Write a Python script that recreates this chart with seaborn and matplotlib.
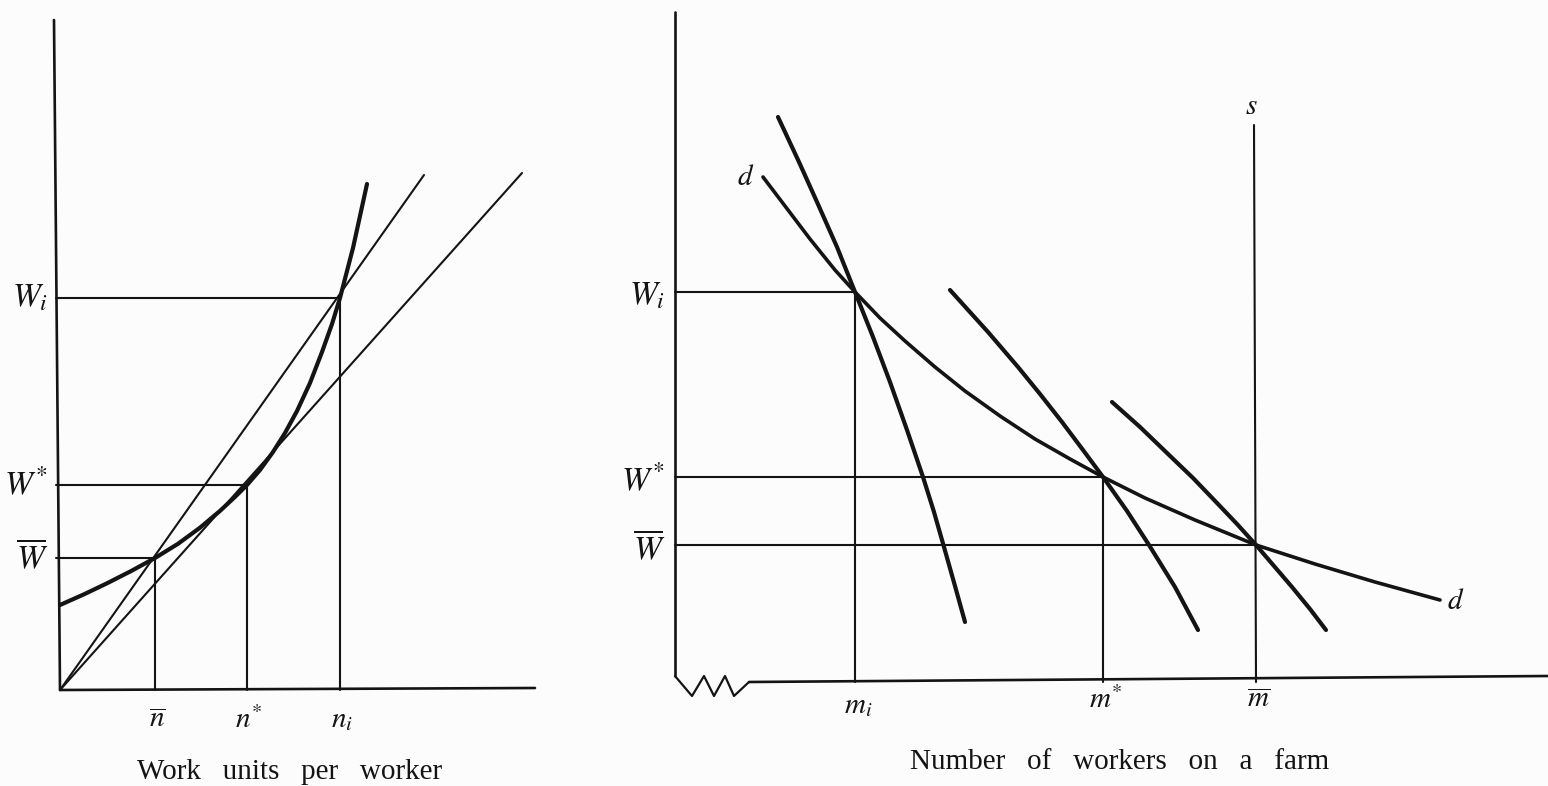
import seaborn as sns
import matplotlib.pyplot as plt
import pandas as pd

# values (units: picture scale, origin at each axis corner)
# left panel: cost curve per worker against work units
n_marks = [95, 187, 280]            # n-bar, n*, n_i
n_labels = [r'$\overline{n}$', r'$n^{*}$', r'$n_i$']
w_left = [132, 205, 392]            # W-bar, W*, W_i
w_labels = [r'$\overline{W}$', r'$W^{*}$', r'$W_i$']
cost_x = [0, 24, 47, 71, 95, 118, 140, 160, 175, 187, 200, 213, 225, 237,
          250, 262, 272, 280, 293, 307]
cost_y = [85, 95.7, 106.7, 118.9, 132, 146.2, 162.3, 179.1, 193.1, 205, 220,
          238, 257, 279, 307, 338, 366, 392, 442, 506]
ray_steep_x, ray_steep_y = [0, 364], [0, 515]
ray_flat_x, ray_flat_y = [0, 462], [0, 517]

# right panel: demand for workers on a farm
m_marks = [180, 428, 581]           # m_i, m*, m-bar
m_labels = [r'$m_i$', r'$m^{*}$', r'$\overline{m}$']
w_right = [390, 205, 137]           # W_i, W*, W-bar
d_x = [88, 110, 135, 160, 180, 205, 230, 260, 290, 325, 360, 395, 428, 470,
       520, 581, 640, 700, 765]
d_y = [505, 476, 443, 412, 390, 364, 341, 315, 291, 266, 243, 223, 205, 184,
       162, 137, 118, 100, 82]
farm_i_x = [103, 124, 142, 162, 180, 198, 215, 232, 248, 259, 269, 280, 290]
farm_i_y = [565, 520, 480, 435, 390, 345, 300, 252, 205, 170, 135, 96, 60]
farm_s_x = [275, 313, 343, 365, 387, 408, 428, 452, 474, 500, 523]
farm_s_y = [392, 350, 315, 288, 260, 232, 205, 171, 137, 95, 52]
farm_b_x = [437, 465, 492, 518, 542, 562, 581, 599, 617, 635, 651]
farm_b_y = [280, 255, 229, 204, 179, 158, 137, 116, 95, 73, 52]
s_top = 557
zig_x = [0, 17, 29, 39, 50, 59, 74]
zig_y = [6, -14, 6, -14, 6, -14, 0]

sns.set_theme(style="white")
plt.rcParams['font.family'] = ['Liberation Serif', 'DejaVu Serif']
plt.rcParams['mathtext.fontset'] = 'stix'

ink = '#141414'
thin = 1.5
thick = 3.0

fig = plt.figure(figsize=(15.48, 7.86), dpi=100)
fig.patch.set_facecolor('#fcfcfc')

# ---- left panel
axL = fig.add_axes([0, 0, 560 / 1548, 1])
axL.set_xlim(-60, 500)
axL.set_ylim(-96, 690)
axL.axis('off')

axL.plot([-6, 0], [670, 0], color=ink, lw=1.9)
axL.plot([0, 475], [0, 2], color=ink, lw=1.9)
axL.plot(ray_steep_x, ray_steep_y, color=ink, lw=thin)
axL.plot(ray_flat_x, ray_flat_y, color=ink, lw=thin)
for n, w in zip(n_marks, w_left):
    axL.plot([-4, n], [w, w], color=ink, lw=thin)
    axL.plot([n, n], [0, w], color=ink, lw=thin)
cost = pd.DataFrame({'x': cost_x, 'y': cost_y})
sns.lineplot(data=cost, x='x', y='y', sort=False, estimator=None,
             color=ink, lw=thick, ax=axL)
axL.lines[-1].set_solid_joinstyle('round')
axL.lines[-1].set_solid_capstyle('round')

for w, lab in zip(w_left, w_labels):
    axL.text(-12, w, lab, ha='right', va='center', fontsize=24, color=ink)
for n, lab in zip(n_marks, n_labels):
    axL.text(n + 2, -30, lab, ha='center', va='center', fontsize=21, color=ink)
axL.text(230, -82, 'Work   units   per   worker', ha='center', va='center',
         fontsize=21, color=ink)

# ---- right panel
axR = fig.add_axes([560 / 1548, 0, 988 / 1548, 1])
axR.set_xlim(-115, 873)
axR.set_ylim(-104, 682)
axR.axis('off')

axR.plot([0, 0], [6, 670], color=ink, lw=1.9)
axR.plot(zig_x, zig_y, color=ink, lw=1.6)
axR.plot([74, 873], [0, 6], color=ink, lw=1.9)
for m, w in zip(m_marks, w_right):
    axR.plot([0, m], [w, w], color=ink, lw=thin)
axR.plot([m_marks[0], m_marks[0]], [0, w_right[0]], color=ink, lw=thin)
axR.plot([m_marks[1], m_marks[1]], [0, w_right[1]], color=ink, lw=thin)
axR.plot([m_marks[2] - 2, m_marks[2]], [s_top, 0], color=ink, lw=thin)

for xs, ys, lw in [(d_x, d_y, 2.6), (farm_i_x, farm_i_y, thick),
                   (farm_s_x, farm_s_y, thick), (farm_b_x, farm_b_y, thick)]:
    df = pd.DataFrame({'x': xs, 'y': ys})
    sns.lineplot(data=df, x='x', y='y', sort=False, estimator=None,
                 color=ink, lw=lw, ax=axR)
    axR.lines[-1].set_solid_joinstyle('round')
    axR.lines[-1].set_solid_capstyle('round')

for w, lab in zip(w_right, [r'$W_i$', r'$W^{*}$', r'$\overline{W}$']):
    axR.text(-10, w - 4, lab, ha='right', va='center', fontsize=24, color=ink)
for m, lab, dy in zip(m_marks, m_labels, [-24, -18, -18]):
    axR.text(m + 3, dy, lab, ha='center', va='center', fontsize=21, color=ink)
axR.text(576, 575, r'$s$', ha='center', va='center', fontsize=21, color=ink)
axR.text(71, 504, r'$d$', ha='center', va='center', fontsize=21, color=ink)
axR.text(781, 80, r'$d$', ha='center', va='center', fontsize=21, color=ink)
axR.text(445, -80, 'Number   of   workers   on   a   farm', ha='center',
         va='center', fontsize=21, color=ink)

fig.savefig('out.png', dpi=100, facecolor=fig.get_facecolor())
